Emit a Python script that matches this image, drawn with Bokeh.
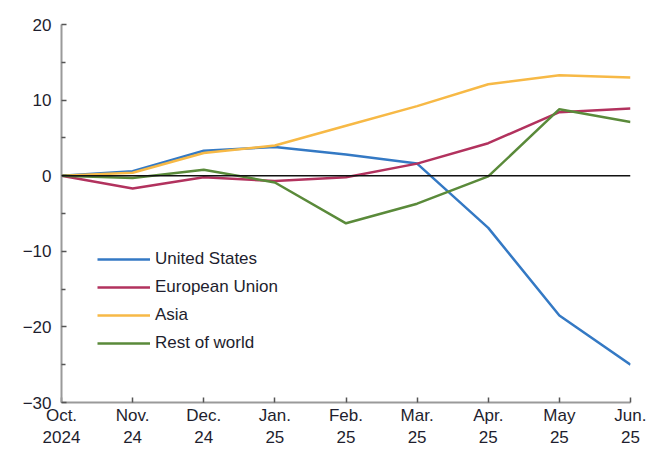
from bokeh.plotting import figure
from bokeh.models import Legend, LegendItem, Span, FixedTicker, Range1d
from bokeh.embed import file_html
from bokeh.resources import INLINE

months = ["Oct.\n2024", "Nov.\n24", "Dec.\n24", "Jan.\n25", "Feb.\n25", "Mar.\n25", "Apr.\n25", "May\n25", "Jun.\n25"]
united_states = [0, 0.6, 3.3, 3.8, 2.8, 1.6, -6.9, -18.5, -25.0]
european_union = [0, -1.7, -0.2, -0.7, -0.2, 1.6, 4.3, 8.4, 8.9]
asia = [0, 0.4, 3.0, 4.0, 6.6, 9.2, 12.1, 13.3, 13.0]
rest_of_world = [0, -0.3, 0.8, -0.9, -6.3, -3.7, -0.1, 8.8, 7.1]
y_ticks = [-30, -20, -10, 0, 10, 20]

series = [
    ("United States", united_states, "#3479c4"),
    ("European Union", european_union, "#b2325e"),
    ("Asia", asia, "#f7b946"),
    ("Rest of world", rest_of_world, "#5a8a3a"),
]

x = list(range(len(months)))

p = figure(width=646, height=452, output_backend="svg", toolbar_location=None,
           x_range=Range1d(0, len(months) - 1), y_range=Range1d(-30, 20),
           min_border_left=61, min_border_right=16, min_border_top=24, min_border_bottom=50)
p.outline_line_color = None
p.grid.visible = False

font = "Liberation Sans"
for ax in (p.xaxis[0], p.yaxis[0]):
    ax.axis_line_color = "#9a9a9a"
    ax.axis_line_width = 2
    ax.major_tick_line_color = "#555555"
    ax.major_tick_line_width = 1.5
    ax.major_tick_in = 5
    ax.major_tick_out = 0
    ax.major_label_text_font = font
    ax.major_label_text_font_size = "17px"
    ax.major_label_text_color = "#1e1e2e"

p.xaxis.ticker = FixedTicker(ticks=x)
p.xaxis.major_label_overrides = {i: m for i, m in enumerate(months)}
p.xaxis.minor_tick_line_color = None
p.xaxis.major_label_standoff = 3

p.yaxis.ticker = FixedTicker(ticks=y_ticks, minor_ticks=[-25, -15, -5, 5, 15])
p.yaxis.minor_tick_in = 4
p.yaxis.minor_tick_out = 0
p.yaxis.minor_tick_line_color = "#555555"
p.yaxis.minor_tick_line_width = 1.5
p.yaxis.major_label_standoff = 10
p.yaxis.major_label_overrides = {t: (str(t).replace("-", "\u2212")) for t in y_ticks}

p.add_layout(Span(location=0, dimension="width", line_color="#111111", line_width=1.5))

items = []
for name, vals, color in series:
    r = p.line(x, vals, line_color=color, line_width=2.5)
    items.append(LegendItem(label=name, renderers=[r]))

legend = Legend(items=items, location=(36, 49), glyph_width=53, glyph_height=20,
                label_height=20, spacing=8, padding=0, margin=0, label_standoff=5,
                label_text_font=font, label_text_font_size="17px", label_text_color="#1e1e2e",
                border_line_color=None, background_fill_alpha=0)
p.add_layout(legend)

open("out.html", "w").write(file_html(p, INLINE))
